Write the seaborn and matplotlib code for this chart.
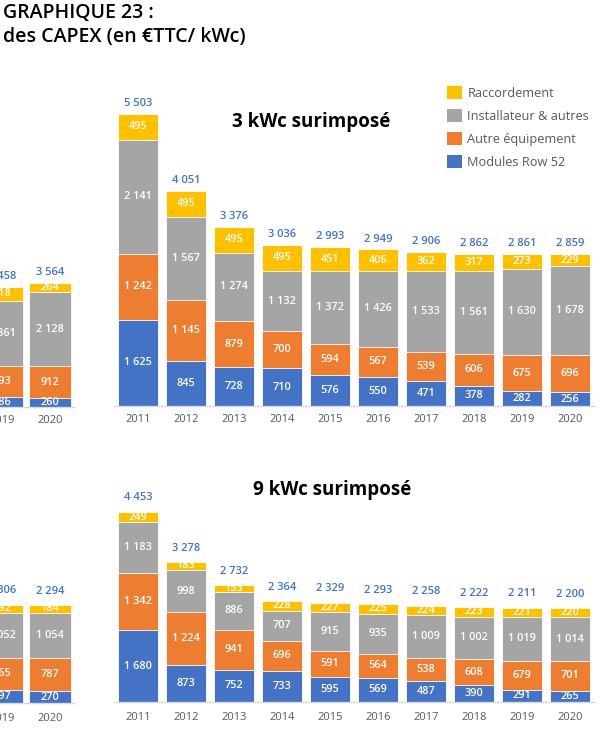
import numpy as np
import pandas as pd
import seaborn as sns
import matplotlib.pyplot as plt
from matplotlib.patches import Patch

# ---------------- data ----------------
years_full = ['2011', '2012', '2013', '2014', '2015', '2016', '2017', '2018', '2019', '2020']
years_left = ['2019', '2020']

# 3 kWc surimposé (top right)
top_modules = [1625, 845, 728, 710, 576, 550, 471, 378, 282, 256]
top_autre = [1242, 1145, 879, 700, 594, 567, 539, 606, 675, 696]
top_install = [2141, 1567, 1274, 1132, 1372, 1426, 1533, 1561, 1630, 1678]
top_racc = [495, 495, 495, 495, 451, 406, 362, 317, 273, 229]
top_totals = [5503, 4051, 3376, 3036, 2993, 2949, 2906, 2862, 2861, 2859]

# 9 kWc surimposé (bottom right)
bot_modules = [1680, 873, 752, 733, 595, 569, 487, 390, 291, 265]
bot_autre = [1342, 1224, 941, 696, 591, 564, 538, 608, 679, 701]
bot_install = [1183, 998, 886, 707, 915, 935, 1009, 1002, 1019, 1014]
bot_racc = [249, 183, 153, 228, 227, 225, 224, 223, 221, 220]
bot_totals = [4453, 3278, 2732, 2364, 2329, 2293, 2258, 2222, 2211, 2200]

# partially visible panels on the left
tl_modules = [286, 260]
tl_autre = [893, 912]
tl_install = [1861, 2128]
tl_racc = [418, 264]
tl_totals = [3458, 3564]

bl_modules = [297, 270]
bl_autre = [765, 787]
bl_install = [1052, 1054]
bl_racc = [192, 184]
bl_totals = [2306, 2294]

series_names = ['Raccordement', 'Installateur & autres', 'Autre équipement', 'Modules Row 52']

# ---------------- style ----------------
C_Y, C_G, C_O, C_B = '#FFC000', '#A5A5A5', '#ED7D31', '#4472C4'
C_TOTAL = '#4472C4'
C_TICK = '#595959'

sns.set_theme(style='white')
plt.rcParams['font.family'] = ['Open Sans', 'DejaVu Sans']

W, H = 615, 750
fig = plt.figure(figsize=(W / 100, H / 100), dpi=100)


def fmt(v):
    return f'{v:,}'.replace(',', ' ')


def add_px_axes(left_px, baseline_px, width_px, height_px):
    return fig.add_axes([left_px / W, (H - baseline_px) / H, width_px / W, height_px / H])


def draw_panel(ax, years, mod, aut, inst, rac, totals, ymax, bar_w, total_pad, tick_pad):
    mod, aut, inst, rac = map(np.array, (mod, aut, inst, rac))
    c1 = mod
    c2 = mod + aut
    c3 = c2 + inst
    c4 = c3 + rac
    df = pd.DataFrame({'year': years, 'c1': c1, 'c2': c2, 'c3': c3, 'c4': c4})
    for col, color in [('c4', C_Y), ('c3', C_G), ('c2', C_O), ('c1', C_B)]:
        sns.barplot(data=df, x='year', y=col, color=color, saturation=1, width=bar_w,
                    edgecolor='white', linewidth=0.6, errorbar=None, ax=ax)
    bottoms = [np.zeros(len(years)), c1, c2, c3]
    vals = [mod, aut, inst, rac]
    for b, v in zip(bottoms, vals):
        for i in range(len(years)):
            ax.text(i, b[i] + v[i] / 2, fmt(int(v[i])), ha='center', va='center',
                    color='white', fontsize=7.8, fontweight='semibold')
    for i, t in enumerate(totals):
        ax.annotate(fmt(t), xy=(i, c4[i]), xytext=(0, total_pad), textcoords='offset points',
                    ha='center', va='bottom', color=C_TOTAL, fontsize=8, fontweight='semibold')
    ax.set_xlim(-0.5, len(years) - 0.5)
    ax.set_ylim(0, ymax)
    ax.set_yticks([])
    ax.set_xlabel('')
    ax.set_ylabel('')
    for s in ['top', 'left', 'right']:
        ax.spines[s].set_visible(False)
    ax.spines['bottom'].set_color('#D9D9D9')
    ax.spines['bottom'].set_linewidth(1.0)
    ax.tick_params(axis='x', length=0, pad=tick_pad, labelsize=8, labelcolor=C_TICK)
    ax.patch.set_alpha(0)


# top right: 3 kWc
h_top = 340
ax_tr = add_px_axes(114, 406, 480, h_top)
draw_panel(ax_tr, years_full, top_modules, top_autre, top_install, top_racc, top_totals,
           ymax=h_top / 0.0531, bar_w=0.84, total_pad=3.5, tick_pad=5.5)

# top left (cropped)
ax_tl = add_px_axes(-22, 407, 96, h_top)
draw_panel(ax_tl, years_left, tl_modules, tl_autre, tl_install, tl_racc, tl_totals,
           ymax=h_top / 0.0348, bar_w=0.88, total_pad=3.5, tick_pad=5.5)

# bottom right: 9 kWc
h_bot = 250
ax_br = add_px_axes(114, 702, 480, h_bot)
draw_panel(ax_br, years_full, bot_modules, bot_autre, bot_install, bot_racc, bot_totals,
           ymax=h_bot / 0.0427, bar_w=0.84, total_pad=6, tick_pad=7.5)

# bottom left (cropped)
ax_bl = add_px_axes(-22, 703, 96, h_bot)
draw_panel(ax_bl, years_left, bl_modules, bl_autre, bl_install, bl_racc, bl_totals,
           ymax=h_bot / 0.0427, bar_w=0.88, total_pad=6, tick_pad=7.5)

# titles
fig.text(3 / W, 1 - 13 / H, 'GRAPHIQUE 23 :', ha='left', va='center', fontsize=14,
         fontweight='semibold', color='black')
fig.text(3 / W, 1 - 37 / H, 'des CAPEX (en €TTC/ kWc)', ha='left', va='center', fontsize=14,
         fontweight='semibold', color='black')
fig.text(232 / W, 1 - 122 / H, '3 kWc surimposé', ha='left', va='center', fontsize=13.5,
         fontweight='bold', color='black')
fig.text(253 / W, 1 - 490 / H, '9 kWc surimposé', ha='left', va='center', fontsize=13.5,
         fontweight='bold', color='black')

# legend
handles = [Patch(facecolor=c, edgecolor='none') for c in (C_Y, C_G, C_O, C_B)]
leg = fig.legend(handles, series_names, loc='upper left',
                 bbox_to_anchor=(447 / W, 1 - 86 / H), frameon=False, fontsize=9.2,
                 handlelength=1.2, handleheight=1.2, handletextpad=0.4,
                 labelspacing=0.72, borderpad=0, borderaxespad=0)
for t in leg.get_texts():
    t.set_color('#595959')

fig.savefig('out.png', dpi=100)
